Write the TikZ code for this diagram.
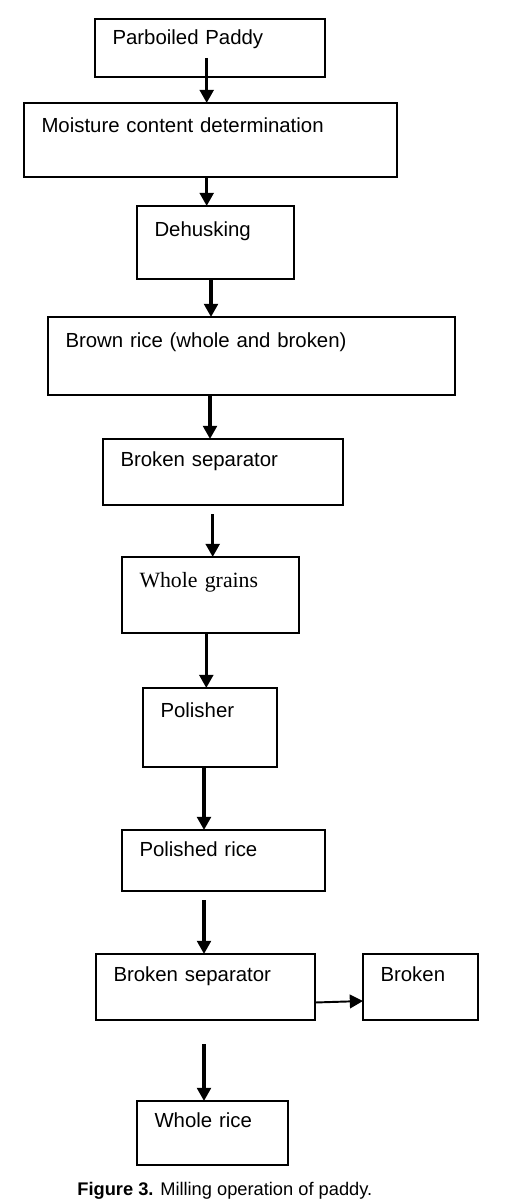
\documentclass[tikz,border=0pt]{standalone}
\usepackage{fontspec}
\usepackage{tikz}
\setmainfont{Liberation Sans}
\newfontfamily\timesfont{Liberation Serif}
\usetikzlibrary{arrows.meta,positioning,calc}
\tikzset{
  stage/.style={draw, line width=0.9pt, anchor=north west, align=left,
                inner xsep=0.35cm, inner ysep=0pt, outer sep=0pt,
                font=\fontsize{11.6}{13.9}\selectfont},
  flow/.style={line width=1.8pt, -{Triangle[length=7.5pt,width=7.8pt]}}
}

\begin{document}
\begin{tikzpicture}
\useasboundingbox (0,0) rectangle (10.3,-24.02);
% process boxes, text sits at the top left
\node[stage, text width=3.9cm,  text height=0.52cm, text depth=0.64cm] (pp)  at (1.9,-0.38)   {Parboiled Paddy};
\node[stage, text width=6.76cm, text height=0.6cm,  text depth=0.88cm] (mc)  at (0.48,-2.06)  {Moisture content determination};
\node[stage, text width=2.44cm, text height=0.6cm,  text depth=0.86cm] (dh)  at (2.74,-4.12)  {Dehusking};
\node[stage, text width=7.44cm, text height=0.6cm,  text depth=0.96cm] (br)  at (0.96,-6.34)  {Brown rice (whole and broken)};
\node[stage, text width=4.1cm,  text height=0.54cm, text depth=0.78cm] (bs1) at (2.06,-8.78)  {Broken separator};
\node[stage, text width=2.84cm, text height=0.61cm, text depth=0.91cm,
      font=\timesfont\fontsize{12.4}{14.8}\selectfont]                 (wg)  at (2.44,-11.14) {Whole grains};
\node[stage, text width=1.98cm, text height=0.58cm, text depth=1.0cm]  (po)  at (2.86,-13.76) {Polisher};
\node[stage, text width=3.36cm, text height=0.52cm, text depth=0.7cm]  (pr)  at (2.44,-16.6)  {Polished rice};
\node[stage, text width=3.68cm, text height=0.54cm, text depth=0.78cm] (bs2) at (1.92,-19.08) {Broken separator};
\node[stage, text width=1.6cm,  text height=0.54cm, text depth=0.78cm] (bk)  at (7.26,-19.08) {Broken};
\node[stage, text width=2.32cm, text height=0.52cm, text depth=0.76cm] (wr)  at (2.74,-22.02) {Whole rice};

% arrows
\draw[flow] ($(pp.south)+(-0.066,0.38)$) coordinate (s1) -- (s1 |- mc.north);
\draw[flow] ($(mc.south)+(-0.076,0)$) coordinate (s2) -- (s2 |- dh.north);
\draw[flow] ($(dh.south)+(-0.09,0)$) coordinate (s3) -- (s3 |- br.north);
\draw[flow] ($(br.south)+(-0.83,0)$) coordinate (s4) -- (s4 |- bs1.north);
\draw[flow] ($(bs1.south)+(-0.206,-0.18)$) coordinate (s5) -- (s5 |- wg.north);
\draw[flow] ($(wg.south)+(-0.084,0)$) coordinate (s6) -- (s6 |- po.north);
\draw[flow, line width=2.1pt] ($(po.south)+(-0.12,0)$) coordinate (s7) -- (s7 |- pr.north);
\draw[flow] ($(pr.south)+(-0.39,-0.18)$) coordinate (s8) -- (s8 |- bs2.north);
\draw[flow, line width=1.1pt] ([yshift=-0.31cm]bs2.east) -- ([yshift=-0.28cm]bk.west);
\draw[flow] ($(bs2.south)+(-0.03,-0.48)$) coordinate (s9) -- (s9 |- wr.north);

% caption
\node[anchor=base west, inner sep=0pt, font=\fontsize{10.4}{12.5}\selectfont] (cap) at (1.54,-23.9)
  {\textbf{Figure 3.} Milling operation of paddy.};
\end{tikzpicture}
\end{document}
